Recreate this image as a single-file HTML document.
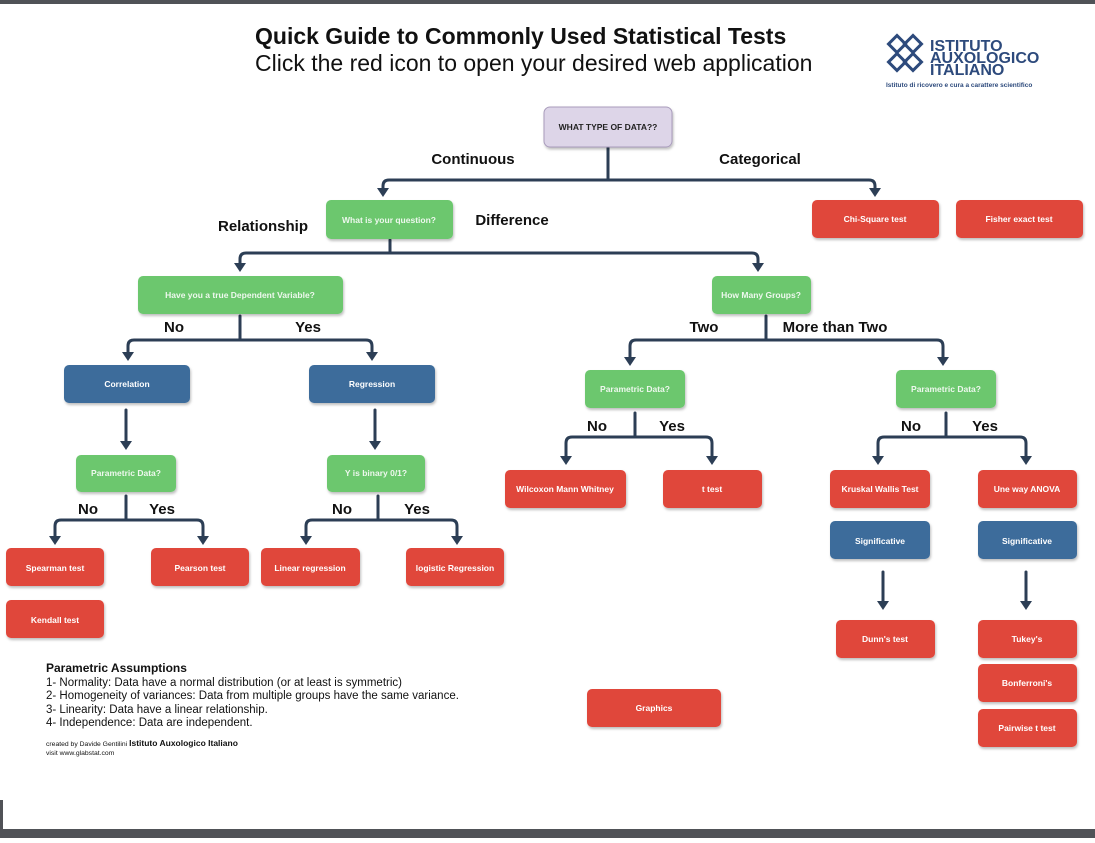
<!DOCTYPE html>
<html><head><meta charset="utf-8"><style>
html,body{margin:0;padding:0;background:#fff;}
body{width:1095px;height:838px;overflow:hidden;position:relative;font-family:"Liberation Sans",sans-serif;}
</style></head><body>
<svg width="1095" height="838" viewBox="0 0 1095 838" xmlns="http://www.w3.org/2000/svg" font-family="Liberation Sans, sans-serif">
<defs>
<filter id="sh" x="-10%" y="-10%" width="130%" height="140%"><feDropShadow dx="1" dy="2" stdDeviation="1.2" flood-color="#000" flood-opacity="0.25"/></filter>
</defs>
<rect x="0" y="0" width="1095" height="4" fill="#505257"/>
<rect x="0" y="829" width="1095" height="9" fill="#505257"/>
<rect x="0" y="800" width="3" height="29" fill="#505257"/>

<text x="255" y="44" font-size="23" font-weight="bold" fill="#111">Quick Guide to Commonly Used Statistical Tests</text>
<text x="255" y="71" font-size="23" fill="#111">Click the red icon to open your desired web application</text>

<!-- logo -->
<g fill="none" stroke="#2d4a7c" stroke-width="3">
<rect x="891" y="38" width="12" height="12" transform="rotate(45 897 44)"/>
<rect x="907" y="38" width="12" height="12" transform="rotate(45 913 44)"/>
<rect x="891" y="56" width="12" height="12" transform="rotate(45 897 62)"/>
<rect x="907" y="56" width="12" height="12" transform="rotate(45 913 62)"/>
</g>
<g font-weight="bold" fill="#2d4a7c" font-size="16">
<text x="930" y="51">ISTITUTO</text>
<text x="930" y="63">AUXOLOGICO</text>
<text x="930" y="75">ITALIANO</text>
</g>
<text x="886" y="87" font-size="6.5" font-weight="bold" fill="#2d4a7c">Istituto di ricovero e cura a carattere scientifico</text>

<!-- connectors -->
<g fill="none" stroke="#2c3e55" stroke-width="3" stroke-linecap="round">
<path d="M608 148 V180"/><path d="M383 190 V186 Q383 180 389 180 H869 Q875 180 875 186 V190"/>
<path d="M390 240 V253"/><path d="M240 265 V259 Q240 253 246 253 H752 Q758 253 758 259 V265"/>
<path d="M240 316 V340"/><path d="M128 354 V346 Q128 340 134 340 H366 Q372 340 372 346 V354"/>
<path d="M766 316 V340"/><path d="M630 359 V346 Q630 340 636 340 H937 Q943 340 943 346 V359"/>
<path d="M126 410 V443"/><path d="M375 410 V443"/>
<path d="M126 496 V520"/><path d="M55 538 V526 Q55 520 61 520 H197 Q203 520 203 526 V538"/>
<path d="M378 496 V520"/><path d="M306 538 V526 Q306 520 312 520 H451 Q457 520 457 526 V538"/>
<path d="M635 413 V437"/><path d="M566 458 V443 Q566 437 572 437 H706 Q712 437 712 443 V458"/>
<path d="M946 413 V437"/><path d="M878 458 V443 Q878 437 884 437 H1020 Q1026 437 1026 443 V458"/>
<path d="M883 572 V603"/><path d="M1026 572 V603"/>
</g>
<g fill="#2c3e55">
<polygon points="377,188 389,188 383,197"/><polygon points="869,188 881,188 875,197"/>
<polygon points="234,263 246,263 240,272"/><polygon points="752,263 764,263 758,272"/>
<polygon points="122,352 134,352 128,361"/><polygon points="366,352 378,352 372,361"/>
<polygon points="624,357 636,357 630,366"/><polygon points="937,357 949,357 943,366"/>
<polygon points="120,441 132,441 126,450"/><polygon points="369,441 381,441 375,450"/>
<polygon points="49,536 61,536 55,545"/><polygon points="197,536 209,536 203,545"/>
<polygon points="300,536 312,536 306,545"/><polygon points="451,536 463,536 457,545"/>
<polygon points="560,456 572,456 566,465"/><polygon points="706,456 718,456 712,465"/>
<polygon points="872,456 884,456 878,465"/><polygon points="1020,456 1032,456 1026,465"/>
<polygon points="877,601 889,601 883,610"/><polygon points="1020,601 1032,601 1026,610"/>
</g>

<!-- boxes -->
<g filter="url(#sh)">
<rect x="544" y="107" width="128" height="40" rx="6" fill="#ddd5e8" stroke="#a99cbc"/>
<g fill="#6cc76e">
<rect x="326" y="200" width="127" height="39" rx="5"/>
<rect x="138" y="276" width="205" height="38" rx="5"/>
<rect x="712" y="276" width="99" height="38" rx="5"/>
<rect x="76" y="455" width="100" height="37" rx="5"/>
<rect x="327" y="455" width="98" height="37" rx="5"/>
<rect x="585" y="370" width="100" height="38" rx="5"/>
<rect x="896" y="370" width="100" height="38" rx="5"/>
</g>
<g fill="#3d6c9b">
<rect x="64" y="365" width="126" height="38" rx="5"/>
<rect x="309" y="365" width="126" height="38" rx="5"/>
<rect x="830" y="521" width="100" height="38" rx="5"/>
<rect x="978" y="521" width="99" height="38" rx="5"/>
</g>
<g fill="#e0473b">
<rect x="812" y="200" width="127" height="38" rx="5"/>
<rect x="956" y="200" width="127" height="38" rx="5"/>
<rect x="505" y="470" width="121" height="38" rx="5"/>
<rect x="663" y="470" width="99" height="38" rx="5"/>
<rect x="830" y="470" width="100" height="38" rx="5"/>
<rect x="978" y="470" width="99" height="38" rx="5"/>
<rect x="6" y="548" width="98" height="38" rx="5"/>
<rect x="151" y="548" width="98" height="38" rx="5"/>
<rect x="261" y="548" width="99" height="38" rx="5"/>
<rect x="406" y="548" width="98" height="38" rx="5"/>
<rect x="6" y="600" width="98" height="38" rx="5"/>
<rect x="836" y="620" width="99" height="38" rx="5"/>
<rect x="978" y="620" width="99" height="38" rx="5"/>
<rect x="978" y="664" width="99" height="38" rx="5"/>
<rect x="978" y="709" width="99" height="38" rx="5"/>
<rect x="587" y="689" width="134" height="38" rx="5"/>
</g>
</g>

<g font-size="8.5" font-weight="bold" fill="#fff" text-anchor="middle">
<text x="608" y="130" fill="#222">WHAT TYPE OF DATA??</text>
<text x="389" y="223" fill="#eef8ee">What is your question?</text>
<text x="240" y="298" fill="#eef8ee">Have you a true Dependent Variable?</text>
<text x="761" y="298" fill="#eef8ee">How Many Groups?</text>
<text x="126" y="476" fill="#eef8ee">Parametric Data?</text>
<text x="376" y="476" fill="#eef8ee">Y is binary 0/1?</text>
<text x="635" y="392" fill="#eef8ee">Parametric Data?</text>
<text x="946" y="392" fill="#eef8ee">Parametric Data?</text>
<text x="127" y="387">Correlation</text>
<text x="372" y="387">Regression</text>
<text x="880" y="544">Significative</text>
<text x="1027" y="544">Significative</text>
<text x="875" y="222">Chi-Square test</text>
<text x="1019" y="222">Fisher exact test</text>
<text x="565" y="492">Wilcoxon Mann Whitney</text>
<text x="712" y="492">t test</text>
<text x="880" y="492">Kruskal Wallis Test</text>
<text x="1027" y="492">Une way ANOVA</text>
<text x="55" y="571">Spearman test</text>
<text x="200" y="571">Pearson test</text>
<text x="310" y="571">Linear regression</text>
<text x="455" y="571">logistic Regression</text>
<text x="55" y="623">Kendall test</text>
<text x="885" y="642">Dunn's test</text>
<text x="1027" y="642">Tukey's</text>
<text x="1027" y="686">Bonferroni's</text>
<text x="1027" y="731">Pairwise t test</text>
<text x="654" y="711">Graphics</text>
</g>

<g font-size="15" font-weight="bold" fill="#111" text-anchor="middle">
<text x="473" y="164">Continuous</text>
<text x="760" y="164">Categorical</text>
<text x="263" y="231">Relationship</text>
<text x="512" y="225">Difference</text>
<text x="174" y="332">No</text><text x="308" y="332">Yes</text>
<text x="704" y="332">Two</text><text x="835" y="332">More than Two</text>
<text x="597" y="431">No</text><text x="672" y="431">Yes</text>
<text x="911" y="431">No</text><text x="985" y="431">Yes</text>
<text x="88" y="514">No</text><text x="162" y="514">Yes</text>
<text x="342" y="514">No</text><text x="417" y="514">Yes</text>
</g>

<g fill="#111" font-size="11.5">
<text x="46" y="672" font-weight="bold" font-size="12">Parametric Assumptions</text>
<text x="46" y="686">1- Normality: Data have a normal distribution (or at least is symmetric)</text>
<text x="46" y="699">2- Homogeneity of variances: Data from multiple groups have the same variance.</text>
<text x="46" y="713">3- Linearity: Data have a linear relationship.</text>
<text x="46" y="726">4- Independence: Data are independent.</text>
<text x="46" y="746" font-size="6.8">created by Davide Gentilini <tspan font-weight="bold" font-size="8.5">Istituto Auxologico Italiano</tspan></text>
<text x="46" y="755" font-size="6.8">visit  www.glabstat.com</text>
</g>
</svg>
</body></html>
